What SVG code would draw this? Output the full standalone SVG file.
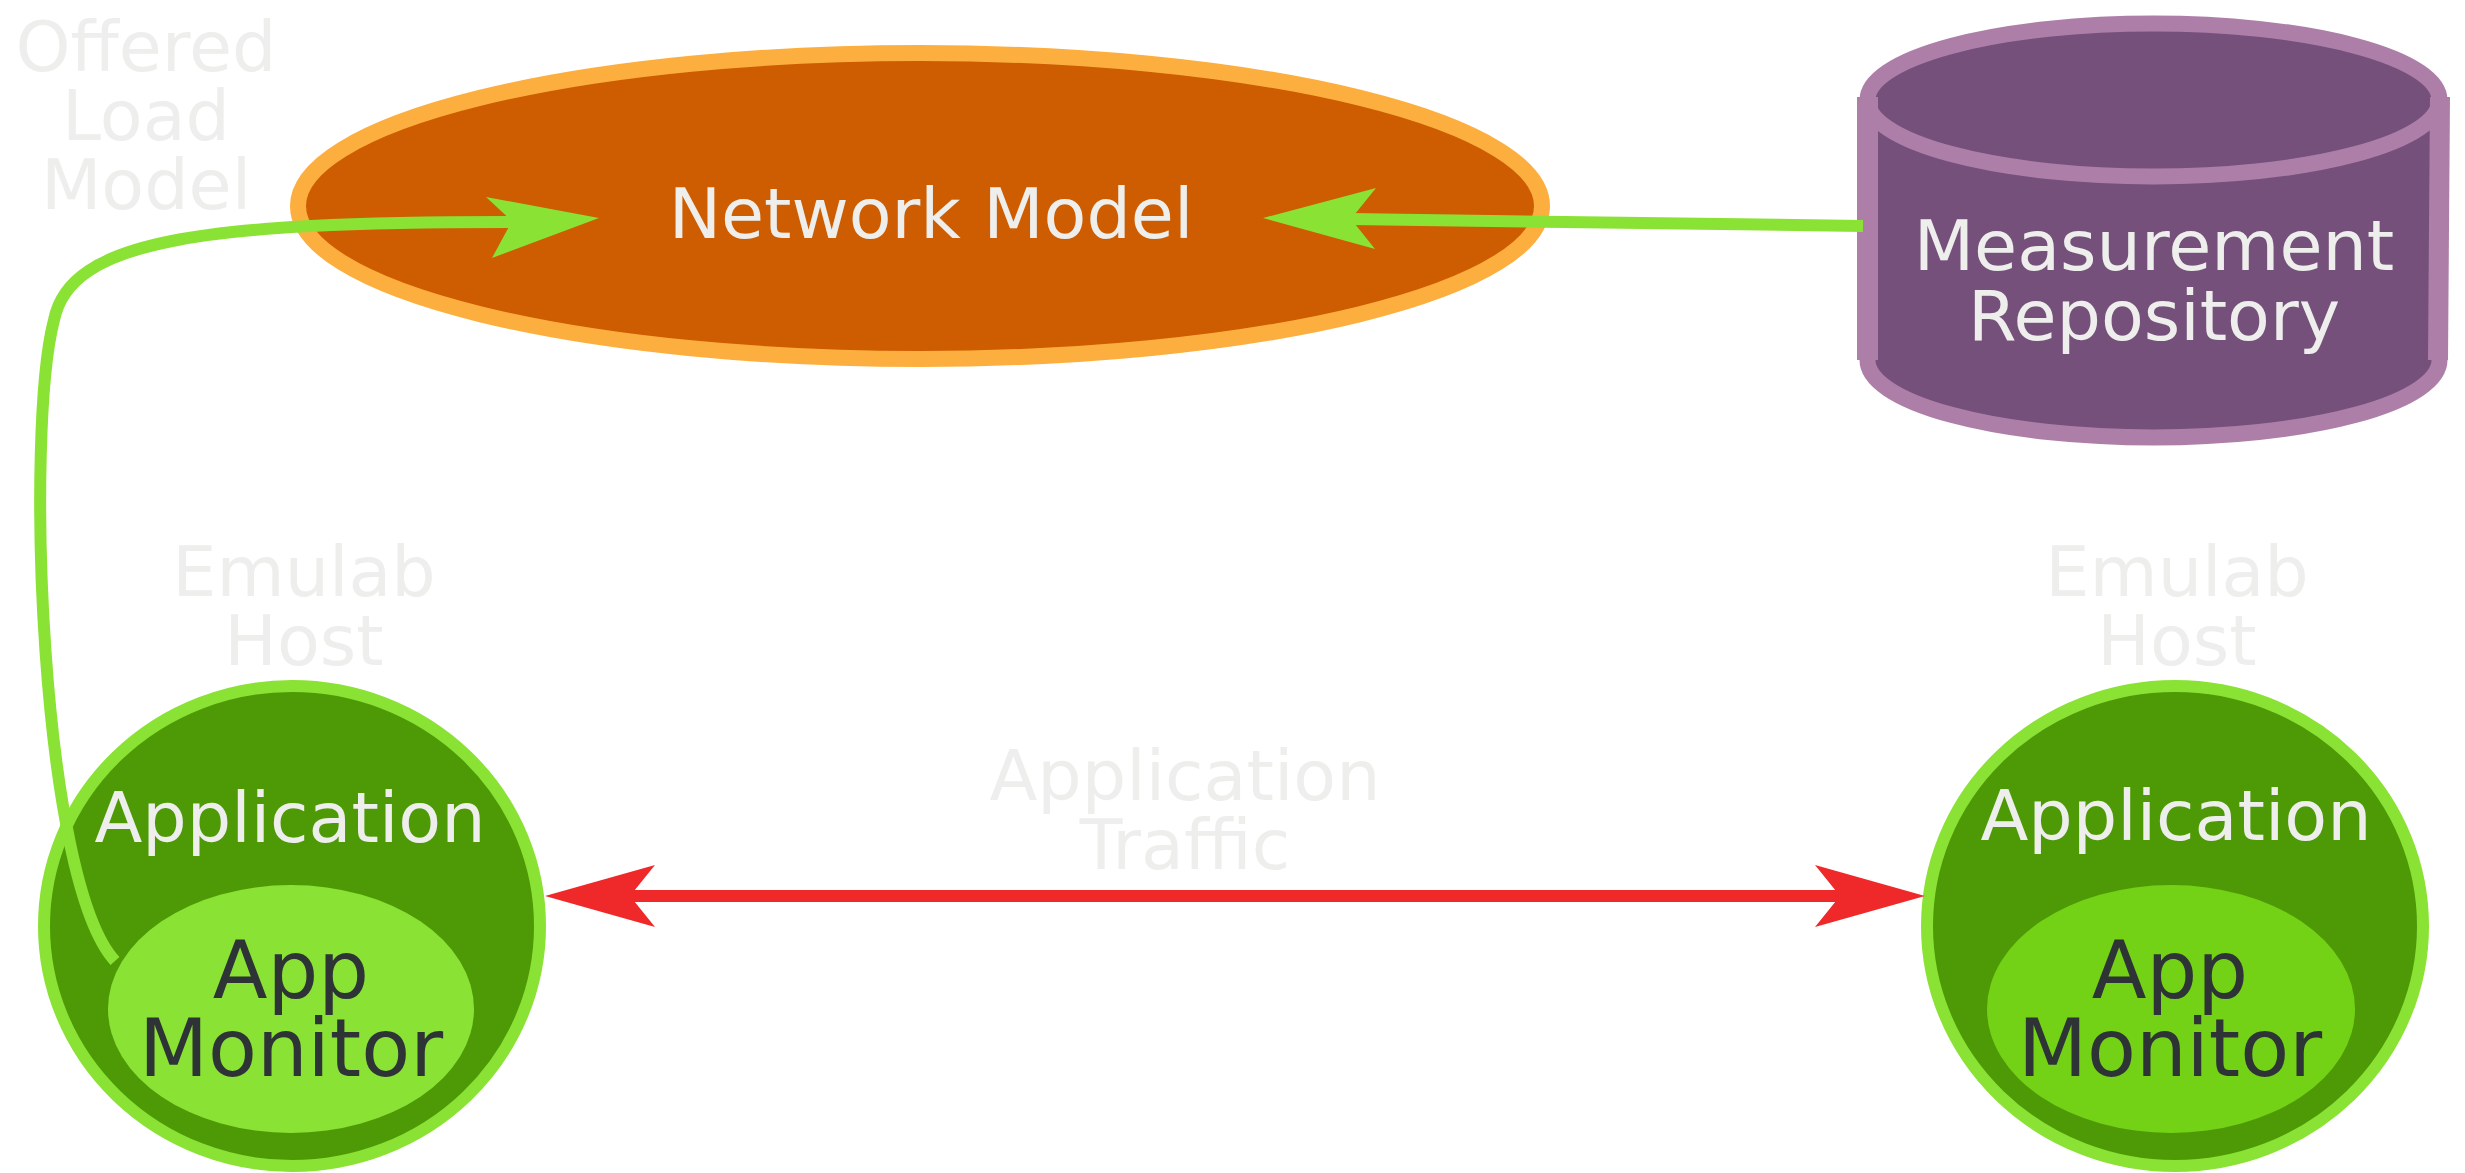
<svg xmlns="http://www.w3.org/2000/svg" width="2465" height="1173" viewBox="0 0 2465 1173">
<style>
text{font-family:"DejaVu Sans","Liberation Sans",sans-serif;text-anchor:middle}
.t70{font-size:70px}
.t80{font-size:80px}
.lbl{fill:#eeeeec}
.dark{fill:#2e3436}
.host{fill:#4e9a06;stroke:#8ae234;stroke-width:12}
.edge-g{fill:none;stroke:#8ae234;stroke-width:12}
.edge-r{fill:none;stroke:#ef2929;stroke-width:12}
.head-g{fill:#8ae234}
.head-r{fill:#ef2929}
</style>
<rect width="2465" height="1173" fill="#ffffff"/>

<g id="network-model">
<ellipse cx="920" cy="206" rx="622" ry="153" fill="#ce5c00" stroke="#fcaf3e" stroke-width="16"/>
<text class="t70 lbl" x="931" y="238">Network Model</text>
</g>

<g id="measurement-repository">
<path d="M1867.5,100 A286,76.5 0 0 1 2439.5,100 L2439.5,360 A286,77.5 0 0 1 1867.5,360 Z" fill="#75507b" stroke="#ad7fa8" stroke-width="16"/>
<path d="M1867.5,100 A286,76.5 0 0 0 2439.5,100" fill="none" stroke="#ad7fa8" stroke-width="16"/>
<line x1="1867.5" y1="97" x2="1867.5" y2="360" stroke="#ad7fa8" stroke-width="21"/>
<line x1="2440" y1="97" x2="2438" y2="360" stroke="#ad7fa8" stroke-width="20"/>
<text class="t70 lbl" x="2154" y="270">Measurement</text>
<text class="t70 lbl" x="2154" y="340">Repository</text>
</g>

<g id="offered-load-model">
<text class="t70 lbl" x="146" y="71">Offered</text>
<text class="t70 lbl" x="146" y="140">Load</text>
<text class="t70 lbl" x="146" y="209">Model</text>
</g>

<g id="host-left">
<text class="t70 lbl" x="304" y="596">Emulab</text>
<text class="t70 lbl" x="304" y="665">Host</text>
<ellipse class="host" cx="292" cy="926" rx="248" ry="240"/>
<text class="t70 lbl" x="290" y="842">Application</text>
<g id="monitor-left">
<ellipse cx="291" cy="1009" rx="183" ry="124" fill="#8ae234"/>
<text class="t80 dark" x="291" y="998">App</text>
<text class="t80 dark" x="291" y="1076">Monitor</text>
</g>
</g>

<g id="host-right">
<text class="t70 lbl" x="2177" y="596">Emulab</text>
<text class="t70 lbl" x="2177" y="665">Host</text>
<ellipse class="host" cx="2175" cy="926" rx="248" ry="240"/>
<text class="t70 lbl" x="2176" y="840">Application</text>
<g id="monitor-right">
<ellipse cx="2171" cy="1009" rx="184" ry="124" fill="#73d216"/>
<text class="t80 dark" x="2170" y="998">App</text>
<text class="t80 dark" x="2170" y="1076">Monitor</text>
</g>
</g>

<g id="traffic-label">
<text class="t70 lbl" x="1185" y="800">Application</text>
<text class="t70 lbl" x="1185" y="869">Traffic</text>
</g>

<g id="connectors">
<path class="edge-g" d="M115,961 C40,880 25,430 54,320 C70,240 200,222 512,222"/>
<polygon class="head-g" points="599,218 486,197 512,221 492,258"/>
<path class="edge-g" d="M1863,226 L1349,219"/>
<polygon class="head-g" points="1263,218 1376,188 1351,219 1375,249"/>
<path class="edge-r" d="M630,896 L1840,896"/>
<polygon class="head-r" points="545,896 655,865 630,896 655,927"/>
<polygon class="head-r" points="1925,896 1815,865 1840,896 1815,927"/>
</g>
</svg>
